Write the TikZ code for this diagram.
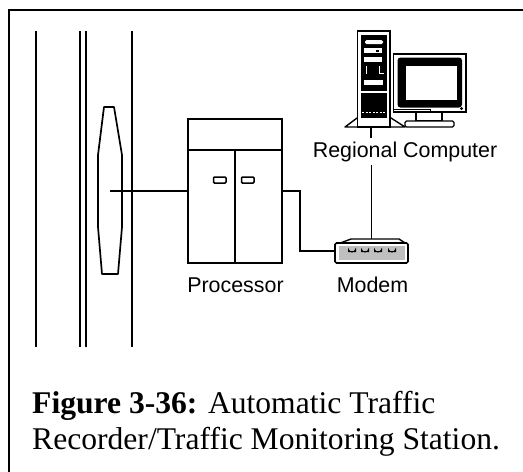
\documentclass[tikz,border=0pt]{standalone}
\usepackage{fontspec}
\setmainfont{Liberation Serif}
\newfontfamily\labelfont{Liberation Sans}
\usepackage{tikz}
\usetikzlibrary{calc,positioning}

\begin{document}
\begin{tikzpicture}[x=1pt, y=-1pt,
                outerframe/.style={line width=2.4pt},
                road/.style={line width=1.9pt},
                wire/.style={line width=1.9pt},
                procbox/.style={draw, line width=1.9pt, minimum width=94pt,
                  minimum height=144pt, inner sep=0pt},
                modembox/.style={minimum width=73pt, minimum height=24pt, inner sep=0pt},
                handle/.style={line width=1.5pt, rounded corners=1pt},
                part/.style={line width=1.4pt, fill=white},
                devlabel/.style={font=\labelfont\fontsize{21.4}{25}\selectfont, anchor=base},
                captext/.style={font=\fontsize{31.6}{36}\selectfont, anchor=base west, inner sep=0pt},
              ]
              \useasboundingbox (0,0) rectangle (523,472);
              \draw[outerframe] (540,10) -| (9,490);

              % lanes and the loop in the road
              \foreach \rx in {36,80,86,132}
                \draw[road] (\rx,31) -- (\rx,347);
              \draw[line width=1.7pt, line join=round] (104,107) -- (114,107) -- (122,155) -- (122,227)
                -- (118,274) -- (102,274) -- (98,227) -- (98,155) -- cycle;
              \coordinate (loop) at (110,191);

              % processor cabinet
              \node[procbox] (proc) at (235,191) {};
              \draw[line width=1.9pt] ([yshift=-32pt]proc.north west) -- ([yshift=-32pt]proc.north east);
              \draw[line width=1.9pt] ([yshift=-32pt]proc.north) -- (proc.south);
              \draw[handle] (213.5,177) rectangle (226,183);
              \draw[handle] (241.5,177) rectangle (254,183);
              \node[devlabel] (proclabel) at (235.5,292) {Processor};

              % modem
              \node[modembox] (modem) at (371.5,251) {};
              \draw[part, line join=round] (335,245) -- (351,239) -- (399,239) -- (408,245);
              \draw[part, line width=1.7pt, rounded corners=1.5pt] (335,243) rectangle (408,263);
              \fill[black!25] (338.5,246) rectangle (404.5,260);
              \foreach \lx in {352,365,378,392}
                \draw[line width=1pt, fill=white] (\lx-3.5,251.5) -- (\lx-3.5,249.5)
                  arc (180:0:3.5 and 2.5) -- (\lx+3.5,251.5) -- cycle;
              \node[devlabel] (modemlabel) at (372.5,292) {Modem};

              % regional computer: tower on its foot, monitor on its stand
              \draw[part, line join=round] (345,127) -- (357,118) -- (391,118) -- (405,127) -- cycle;
              \draw[part] (357.5,31) rectangle (390,127);
              \fill (361,35) rectangle (387,118);
              \fill[white, rounded corners=1.5pt] (365,40) rectangle (383,44);
              \fill[white] (364,48) rectangle (382,53);
              \fill (376,49.5) rectangle (379,51.5);
              \fill[white] (364,57) rectangle (382,62);
              \draw[white, line width=1pt] (366,66) -- (366,74) (379,66) -- (379,73.5) -- (384,73.5);
              \fill[white] (364,80) rectangle (383,85);
              \draw[white, line width=1.2pt] (361,92) -- (387,92);
              \draw[white, line width=1pt, dash pattern=on 2pt off 1.5pt] (362,112) -- (386,112);

              \draw[part] (393.5,54) rectangle (466,112);
              \fill[rounded corners=3pt] (397.5,57.5) rectangle (462,107.5);
              \fill[white] (406,66) rectangle (457,100);
              \draw[line width=1pt] (394,109.5) -- (430,109.5) -- (430,112);
              \fill (461.5,108.5) circle (1.6pt);
              \draw[part] (416,112) rectangle (442,121);
              \draw[part, rounded corners=1.5pt] (405,121) rectangle (454,127);
              \coordinate (pc) at (371,127);
              \node[devlabel] (pclabel) at (405,157) {Regional Computer};

              % wiring
              \draw[wire] (loop) -- (proc.west);
              \draw[wire] (proc.east) -- ++(17,0) |- (modem.west);
              \draw[wire] (modem.north) -- (modem.north |- pclabel.south);
              \draw[wire] (pc) -- (pc |- pclabel.north);

              \node[captext] (cap1) at (32,413) {\textbf{Figure 3-36:} Automatic Traffic};
              \node[captext] (cap2) at (32,449) {Recorder/Traffic Monitoring Station.};
\end{tikzpicture}
\end{document}
